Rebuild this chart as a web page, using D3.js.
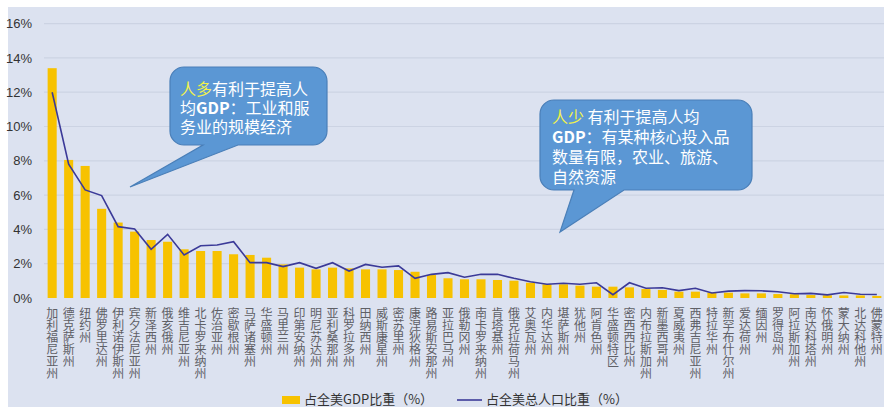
<!DOCTYPE html>
<html>
<head>
<meta charset="utf-8">
<script src="https://cdn.jsdelivr.net/npm/d3@7"></script>
<style>
  html, body { margin: 0; padding: 0; background: #ffffff; }
  svg { display: block; }
  text { font-family: "Noto Sans CJK SC", "Noto Sans", sans-serif; }
</style>
</head>
<body>
<svg id="chart" width="884" height="407"></svg>
<script>
// States ordered by share of US GDP
const states = ["加利福尼亚州","德克萨斯州","纽约州","佛罗里达州","伊利诺伊斯州","宾夕法尼亚州","新泽西州","俄亥俄州","维吉尼亚州","北卡罗来纳州","佐治亚州","密歇根州","马萨诸塞州","华盛顿州","马里兰州","印第安纳州","明尼苏达州","亚利桑那州","科罗拉多州","田纳西州","威斯康星州","密苏里州","康涅狄格州","路易斯安那州","亚拉巴马州","俄勒冈州","南卡罗来纳州","肯塔基州","俄克拉荷马州","艾奥瓦州","内华达州","堪萨斯州","犹他州","阿肯色州","华盛顿特区","密西西比州","内布拉斯加州","新墨西哥州","夏威夷州","西弗吉尼亚州","特拉华州","新罕布什尔州","爱达荷州","缅因州","罗得岛州","阿拉斯加州","南达科塔州","怀俄明州","蒙大纳州","北达科他州","佛蒙特州"];

// Share of US GDP (%)
const gdpShare = [13.4,8.05,7.7,5.2,4.4,3.87,3.38,3.28,2.84,2.74,2.74,2.55,2.51,2.35,1.96,1.77,1.67,1.77,1.73,1.67,1.67,1.63,1.53,1.34,1.15,1.09,1.09,1.05,1.01,0.89,0.8,0.8,0.72,0.66,0.66,0.62,0.52,0.47,0.37,0.37,0.31,0.31,0.27,0.27,0.23,0.22,0.17,0.16,0.15,0.15,0.12];

// Share of US population (%)
const popShare = [12.0,7.8,6.3,5.97,4.16,4.02,2.84,3.71,2.51,3.05,3.09,3.28,2.06,2.06,1.83,2.06,1.73,2.06,1.57,1.96,1.79,1.87,1.15,1.38,1.48,1.21,1.38,1.38,1.15,0.95,0.8,0.86,0.8,0.89,0.19,0.89,0.57,0.6,0.43,0.57,0.29,0.4,0.43,0.42,0.36,0.25,0.27,0.18,0.32,0.22,0.2];

const yTicks = [0,2,4,6,8,10,12,14,16];
const seriesNames = ["占全美GDP比重（%）","占全美总人口比重（%）"];

const svg = d3.select("#chart");

// panel background
svg.append("rect").attr("x", 8).attr("y", 7).attr("width", 876).attr("height", 400)
  .attr("fill", "#dce2f0");

const x = d3.scaleBand().domain(states).range([44, 885]).paddingInner(0.45).paddingOuter(0.22);
const y = d3.scaleLinear().domain([0, 16]).range([298, 23.6]);

// gridlines
svg.append("g").selectAll("line").data(yTicks.filter(d => d > 0)).join("line")
  .attr("x1", 44).attr("x2", 884)
  .attr("y1", d => y(d)).attr("y2", d => y(d))
  .attr("stroke", "#ccd3e3").attr("stroke-width", 1.2);

// y axis labels
const yAxis = d3.axisLeft(y).tickValues(yTicks).tickFormat(d => d + "%").tickSize(0).tickPadding(0);
const gy = svg.append("g").attr("transform", "translate(32,0)").call(yAxis);
gy.select(".domain").remove();
gy.selectAll("text").attr("font-size", 13).attr("fill", "#333")
  .style("font-family", "'Liberation Sans', Arial, sans-serif");

// GDP bars
svg.append("g").selectAll("rect").data(states).join("rect")
  .attr("x", d => x(d))
  .attr("width", x.bandwidth())
  .attr("y", (d, i) => y(gdpShare[i]))
  .attr("height", (d, i) => y(0) - y(gdpShare[i]))
  .attr("fill", "#f7c200");

// population line
const line = d3.line()
  .x((d, i) => x(states[i]) + x.bandwidth() / 2)
  .y(d => y(d));
svg.append("path").datum(popShare)
  .attr("d", line)
  .attr("fill", "none")
  .attr("stroke", "#3b3a98")
  .attr("stroke-width", 1.6);

// vertical category labels
svg.append("g").selectAll("text").data(states).join("text")
  .attr("x", d => x(d) + x.bandwidth() / 2)
  .attr("y", 307)
  .style("writing-mode", "vertical-rl")
  .style("text-orientation", "upright")
  .attr("font-size", 12)
  .attr("fill", "#5f6066")
  .text(d => d);

// legend
const lg = svg.append("g");
lg.append("rect").attr("x", 282).attr("y", 396).attr("width", 18).attr("height", 8).attr("fill", "#f7c200");
lg.append("text").attr("x", 304).attr("y", 404).attr("font-size", 13).attr("fill", "#333").text(seriesNames[0]);
lg.append("line").attr("x1", 457).attr("x2", 482).attr("y1", 400).attr("y2", 400)
  .attr("stroke", "#3b3a98").attr("stroke-width", 1.6);
lg.append("text").attr("x", 486).attr("y", 404).attr("font-size", 13).attr("fill", "#333").text(seriesNames[1]);

// speech-bubble callouts
function bubblePath(x0, y0, x1, y1, r, tailL, tailR, tip) {
  const p = d3.path();
  p.moveTo(x0 + r, y0);
  p.lineTo(x1 - r, y0);
  p.arcTo(x1, y0, x1, y0 + r, r);
  p.lineTo(x1, y1 - r);
  p.arcTo(x1, y1, x1 - r, y1, r);
  p.lineTo(tailR, y1);
  p.lineTo(tip[0], tip[1]);
  p.lineTo(tailL, y1);
  p.lineTo(x0 + r, y1);
  p.arcTo(x0, y1, x0, y1 - r, r);
  p.lineTo(x0, y0 + r);
  p.arcTo(x0, y0, x0 + r, y0, r);
  p.closePath();
  return p.toString();
}

// each segment: [text, highlighted, bold]
function callout(box, lines) {
  const g = svg.append("g");
  g.append("path")
    .attr("d", bubblePath(box.x0, box.y0, box.x1, box.y1, 14, box.tailL, box.tailR, box.tip))
    .attr("fill", "#5b97d4").attr("stroke", "#4a7fb8").attr("stroke-width", 1.2);
  lines.forEach((ln, i) => {
    const t = g.append("text").attr("x", box.tx).attr("y", box.ty + i * box.lh)
      .attr("font-size", box.fs).attr("fill", "#ffffff");
    ln.forEach(seg => t.append("tspan")
      .attr("fill", seg[1] ? "#f2f24a" : "#ffffff")
      .attr("font-weight", seg[2] ? "bold" : null)
      .text(seg[0]));
  });
}

callout({x0: 170, y0: 67, x1: 327, y1: 145, tailL: 203, tailR: 238, tip: [130, 187], tx: 180, ty: 95, lh: 19, fs: 16},
  [[["人多", true], ["有利于提高人", false]],
   [["均", false], ["GDP", false, true], ["：工业和服", false]],
   [["务业的规模经济", false]]]);

callout({x0: 540, y0: 100, x1: 752, y1: 190, tailL: 574, tailR: 624, tip: [560, 232], tx: 552, ty: 123, lh: 20, fs: 16},
  [[["人少", true], [" 有利于提高人均", false]],
   [["GDP", false, true], ["：有某种核心投入品", false]],
   [["数量有限，农业、旅游、", false]],
   [["自然资源", false]]]);
</script>
</body>
</html>
